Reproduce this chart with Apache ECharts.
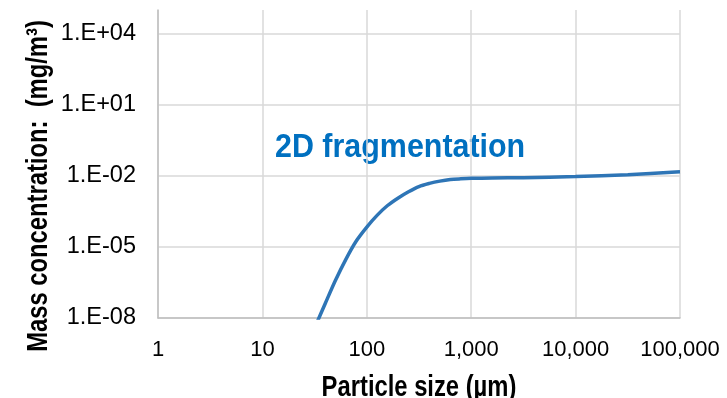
<!DOCTYPE html>
<html>
<head>
<meta charset="utf-8">
<script src="https://cdn.jsdelivr.net/npm/echarts@6/dist/echarts.min.js"></script>
<style>
  html, body { margin: 0; padding: 0; background: #fff; }
  #chart { width: 727px; height: 398px; }
</style>
</head>
<body>
<div id="chart"></div>
<script>
// Particle size (µm) and mass concentration (mg/m³) for 2D fragmentation
const sizes = [32, 40, 50, 63, 79, 100, 126, 158, 200, 251, 316, 398, 501, 631, 794, 1000, 1585, 3162, 10000, 31623, 100000];
const concentration = [4.3e-9, 4.1e-8, 3.8e-7, 3.0e-6, 1.74e-5, 6.9e-5, 2.2e-4, 5.6e-4, 1.17e-3, 2.14e-3, 3.55e-3, 4.8e-3, 6.0e-3, 7.0e-3, 7.5e-3, 7.85e-3, 8.1e-3, 8.4e-3, 9.3e-3, 1.12e-2, 1.48e-2];

const xTitle = 'Particle size (µm)';
const yTitle = 'Mass concentration:  (mg/m³)';
const seriesLabel = '2D fragmentation';

// Bold titles use a condensed look, made by squeezing the bold face horizontally
const boldFamily = '"Liberation Sans", Arial, sans-serif';
const regular = '"Liberation Sans", Arial, sans-serif';

function sciLabel(v) {
  const e = Math.round(Math.log10(v));
  const sign = e < 0 ? '-' : '+';
  const a = Math.abs(e);
  return '1.E' + sign + (a < 10 ? '0' + a : '' + a);
}

const chart = echarts.init(document.getElementById('chart'), null, { renderer: 'canvas' });

chart.setOption({
  animation: false,
  backgroundColor: '#fff',
  grid: { left: 158, right: 47, top: 10, bottom: 80, containLabel: false },
  xAxis: {
    type: 'log',
    logBase: 10,
    min: 1,
    max: 100000,
    interval: 1,
    axisLine: { show: true, lineStyle: { color: '#BFBFBF', width: 1.5 } },
    axisTick: { show: false },
    axisLabel: {
      margin: 21,
      fontFamily: regular,
      fontSize: 22,
      color: '#000',
      formatter: v => Math.round(v).toLocaleString('en-US')
    },
    splitLine: { show: true, lineStyle: { color: '#D9D9D9', width: 1.5 } },
    minorSplitLine: { show: false }
  },
  yAxis: {
    type: 'log',
    logBase: 10,
    min: 1e-8,
    max: 1e5,
    interval: 3,
    axisLine: { show: true, lineStyle: { color: '#BFBFBF', width: 1.5 } },
    axisTick: { show: false },
    axisLabel: {
      margin: 22,
      fontFamily: regular,
      fontSize: 23.5,
      color: '#000',
      showMaxLabel: false,
      formatter: v => sciLabel(v)
    },
    splitLine: { show: true, showMaxLine: false, lineStyle: { color: '#D9D9D9', width: 1.5 } }
  },
  series: [{
    name: seriesLabel,
    type: 'line',
    data: sizes.map((s, i) => [s, concentration[i]]),
    showSymbol: false,
    smooth: 0.3,
    clip: true,
    lineStyle: { color: '#2E75B6', width: 3.5 }
  }],
  graphic: [
    {
      type: 'text',
      x: 275,
      y: 148,
      scaleX: 0.922,
      style: {
        text: seriesLabel,
        fontFamily: boldFamily,
        fontWeight: 'bold',
        fontSize: 33,
        fill: '#0070C0',
        align: 'left',
        verticalAlign: 'middle'
      }
    },
    {
      type: 'text',
      x: 419,
      y: 388,
      scaleX: 0.82,
      style: {
        text: xTitle,
        fontFamily: boldFamily,
        fontWeight: 'bold',
        fontSize: 29,
        fill: '#000',
        align: 'center',
        verticalAlign: 'middle'
      }
    },
    {
      type: 'text',
      x: 38.5,
      y: 186,
      rotation: Math.PI / 2,
      scaleX: 0.82,
      style: {
        text: yTitle,
        fontFamily: boldFamily,
        fontWeight: 'bold',
        fontSize: 29,
        fill: '#000',
        align: 'center',
        verticalAlign: 'middle'
      }
    }
  ]
});
</script>
</body>
</html>
